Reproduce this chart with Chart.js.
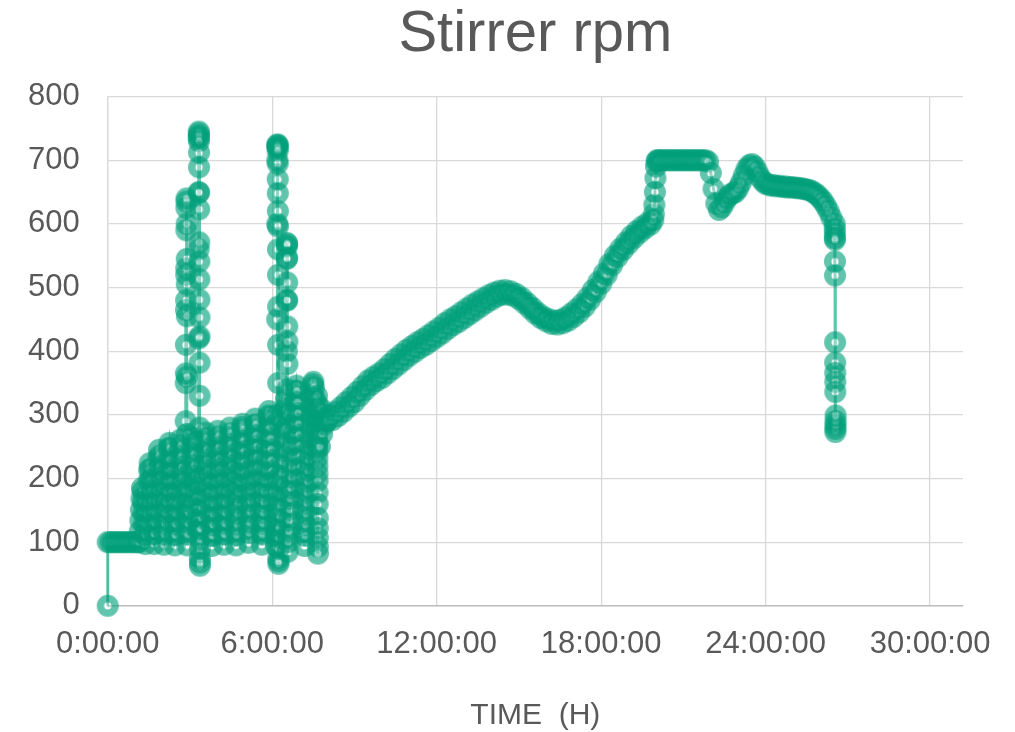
<!DOCTYPE html>
<html>
<head>
<meta charset="utf-8">
<title>Stirrer rpm</title>
<script src="https://cdn.jsdelivr.net/npm/chart.js@4.4.1/dist/chart.umd.min.js"></script>
<style>
    html, body { margin: 0; padding: 0; background: #ffffff; }
</style>
</head>
<body>
<canvas id="stirrerChart" width="1015" height="732"></canvas>
<script>
// Stirrer speed log (rpm). Each run is read at a fixed logging interval (hours).
const startupRpm = [0, 100];
const idleRpm = [100, 100, 100, 100, 100, 100, 100, 100, 100, 100, 100];
const band1Rpm = [100, 117, 134, 151, 168, 185, 180, 163, 146, 129, 112, 97,
    111, 128, 145, 162, 179, 196, 213, 224, 215, 198, 181, 164, 147, 130, 113, 97,
    113, 130, 147, 164, 181, 198, 215, 232, 245, 236, 219, 202, 185, 168, 151, 134, 117, 96,
    112, 129, 146, 163, 180, 197, 214, 231, 248, 256, 247, 230, 213, 196, 179, 162, 145, 128, 111, 95,
    111, 128, 145, 162, 179, 196, 213, 230, 247, 261, 252, 235, 218, 201, 184, 167, 150, 133, 116];
const spikeARpm = [180, 290, 350, 365, 410, 465, 480, 520, 530, 590, 625, 635, 640, 600, 545, 505, 455, 360, 270, 150, 95];
const band2Rpm = [112, 129, 146, 163, 180, 197, 214, 231, 248, 264, 255, 238, 221, 204, 187, 170, 153, 136, 119];
const spikeBRpm = [120, 260, 420, 560, 650, 735, 745, 742, 738, 730,
    712, 689, 649, 623, 571, 541, 513, 481, 453, 423, 382, 330, 280, 200, 120, 75, 63, 68, 90];
const band3Rpm = [104, 121, 138, 155, 172, 189, 206, 223, 240, 257, 272,
    263, 246, 229, 212, 195, 178, 161, 144, 127, 110, 94,
    110, 127, 144, 161, 178, 195, 212, 229, 246, 263, 275,
    266, 249, 232, 215, 198, 181, 164, 147, 130, 113, 96,
    112, 129, 146, 163, 180, 197, 214, 231, 248, 265, 280,
    271, 254, 237, 220, 203, 186, 169, 152, 135, 118, 95,
    111, 128, 145, 162, 179, 196, 213, 230, 247, 264, 281, 286,
    277, 260, 243, 226, 209, 192, 175, 158, 141, 124, 99,
    114, 131, 148, 165, 182, 199, 216, 233, 250, 267, 284, 294,
    285, 268, 251, 234, 217, 200, 183, 166, 149, 132, 115, 96,
    112, 129, 146, 163, 180, 197, 214, 231, 248, 265, 282, 299, 306,
    297, 280, 263, 246, 229, 212, 195, 178, 161, 144, 127, 110, 94,
    110];
const spikeCRpm = [150, 300, 450, 600, 700, 722, 725, 724, 720, 715,
    695, 670, 648, 620, 596, 560, 520, 470, 410, 350, 290, 200, 120, 75, 66, 70, 90];
const band4Rpm = [107, 124, 141, 158, 175, 192, 209, 226, 243, 260, 277, 294, 311, 325, 308];
const spikeDRpm = [280, 400, 480, 545, 565, 570, 568, 547, 508, 480, 439, 415, 380, 340, 300, 250, 180, 110, 85];
const band5Rpm = [100, 117, 134, 151, 168, 185, 202, 219, 236, 253, 270, 287, 304, 321, 338, 346,
    337, 320, 303, 286, 269, 252, 235, 218, 201, 184, 167, 150, 133, 116, 94,
    110, 127, 144, 161, 178, 195, 212, 229, 246, 263, 280, 297, 314, 331, 348, 352,
    343, 326, 309, 292, 275, 258];
const spikeERpm = [250, 330, 318, 305, 292, 280, 268, 256, 244, 232, 220, 208, 196, 178, 160, 138, 122, 107, 93, 82];
const settleRpm = [290, 250, 310, 270, 300, 285, 295, 290];
const rampRpm = [290, 300, 292, 305, 298, 312, 305, 320, 313, 328,
    320, 336, 330, 345, 339, 354, 347, 360, 353, 365,
    358, 372, 365, 380, 372, 388, 379, 395, 386, 402,
    393, 408, 399, 414, 405, 419, 410, 425, 416, 431,
    422, 437, 428, 444, 435, 450, 441, 455, 446, 461,
    452, 467, 458, 473, 464, 478, 470, 483, 476, 488,
    481, 492, 486, 495, 489, 496, 489, 494, 487, 490,
    482, 484, 475, 476, 467, 468, 459, 460, 452, 454,
    447, 450, 443, 448, 442, 449, 444, 453, 448, 459,
    454, 466, 461, 474, 470, 484, 481, 496, 493, 509,
    506, 522, 520, 537, 535, 550, 548, 561, 559, 571,
    569, 581, 578, 589, 586, 596, 593, 602, 599];
const riseRpm = [606, 615, 630, 650, 672, 690, 698, 700];
const plateauRpm = [700, 700, 700, 700, 700, 700, 700, 700, 700,
    700, 700, 700, 700, 700, 700, 700, 700, 700];
const dipRpm = [698, 680, 655, 632, 622, 626, 634, 641, 646, 648, 650,
    656, 665, 676, 686, 692, 694, 690, 682, 673, 667, 663];
const tailRpm = [662, 660, 661, 659, 660, 658, 659, 657, 658, 657,
    657, 656, 656, 655, 654, 653, 651, 648, 645, 640,
    635, 628, 620, 610];
const dropRpm = [600, 592, 585, 578, 575, 541, 519, 414, 382, 366, 352, 336, 273, 278, 284, 290, 299];

// [values, first reading (h), interval (h)]
const runs = [
    [startupRpm, 0.0, 0.001],
    [idleRpm, 0.1, 0.1],
    [band1Rpm, 1.15, 0.02],
    [spikeARpm, 2.84, 0.003],
    [band2Rpm, 2.92, 0.02],
    [spikeBRpm, 3.31, 0.002],
    [band3Rpm, 3.38, 0.02],
    [spikeCRpm, 6.18, 0.002],
    [band4Rpm, 6.24, 0.02],
    [spikeDRpm, 6.53, 0.002],
    [band5Rpm, 6.58, 0.02],
    [spikeERpm, 7.63, 0.002],
    [settleRpm, 7.70, 0.04],
    [rampRpm, 8.0, 0.1],
    [riseRpm, 19.9, 0.02],
    [plateauRpm, 20.1, 0.1],
    [dipRpm, 21.9, 0.1],
    [tailRpm, 24.1, 0.1],
    [dropRpm, 26.52, 0.002]
];

const xTickHours = [0, 6, 12, 18, 24, 30];
const xTickLabels = ['0:00:00', '6:00:00', '12:00:00', '18:00:00', '24:00:00', '30:00:00'];
const yTicks = [0, 100, 200, 300, 400, 500, 600, 700, 800];

const GREEN = 'rgba(0, 160, 122, 0.62)';
const TEXT = '#595959';
const FONT = 'Arial, "Liberation Sans", sans-serif';

function buildPoints() {
    const points = [];
    runs.forEach(([values, start, step]) => {
        values.forEach((rpm, i) => {
            points.push({ x: start + i * step, y: rpm });
        });
    });
    return points;
}

// ring marker: translucent green ring, faint white hole so dense runs stay solid
function makeMarker() {
    const c = document.createElement('canvas');
    c.width = 24;
    c.height = 24;
    const g = c.getContext('2d');
    g.beginPath();
    g.arc(12, 12, 7.25, 0, Math.PI * 2);
    g.lineWidth = 7.5;
    g.strokeStyle = GREEN;
    g.stroke();
    g.beginPath();
    g.arc(12, 12, 3.5, 0, Math.PI * 2);
    g.fillStyle = 'rgba(255, 255, 255, 0.3)';
    g.fill();
    return c;
}

function renderStirrerChart() {
    const ctx = document.getElementById('stirrerChart').getContext('2d');

    return new Chart(ctx, {
        type: 'line',
        data: {
            datasets: [{
                label: 'Stirrer rpm',
                data: buildPoints(),
                borderColor: GREEN,
                borderWidth: 3,
                pointStyle: makeMarker(),
                pointRadius: 11,
                tension: 0,
                clip: false
            }]
        },
        options: {
            responsive: false,
            animation: false,
            devicePixelRatio: 1,
            layout: {
                padding: { left: 0, right: 52, top: 0, bottom: 0 }
            },
            plugins: {
                legend: { display: false },
                tooltip: { enabled: false },
                title: {
                    display: true,
                    text: 'Stirrer rpm',
                    color: TEXT,
                    fullSize: false,
                    font: { family: FONT, size: 58, weight: 'normal', lineHeight: 1.2 },
                    padding: { top: 0, bottom: 27 }
                }
            },
            scales: {
                x: {
                    type: 'linear',
                    min: 0,
                    max: 31.2,
                    afterBuildTicks: (scale) => {
                        scale.ticks = xTickHours.map(v => ({ value: v }));
                    },
                    ticks: {
                        color: TEXT,
                        padding: 20,
                        maxRotation: 0,
                        font: { family: FONT, size: 31 },
                        callback: (value) => xTickLabels[xTickHours.indexOf(value)]
                    },
                    grid: { color: '#d9d9d9', lineWidth: 1.3, drawTicks: false },
                    border: { color: '#bfbfbf', width: 1.5 },
                    title: {
                        display: true,
                        text: 'TIME  (H)',
                        color: TEXT,
                        font: { family: FONT, size: 30, lineHeight: 1.1 },
                        padding: { top: 16, bottom: 0 }
                    }
                },
                y: {
                    min: 0,
                    max: 800,
                    afterBuildTicks: (scale) => {
                        scale.ticks = yTicks.map(v => ({ value: v }));
                    },
                    ticks: {
                        color: TEXT,
                        padding: 28,
                        font: { family: FONT, size: 31 }
                    },
                    grid: { color: '#d9d9d9', lineWidth: 1.3, drawTicks: false },
                    border: { color: '#d9d9d9', width: 1.3 }
                }
            }
        }
    });
}

renderStirrerChart();
</script>
</body>
</html>
